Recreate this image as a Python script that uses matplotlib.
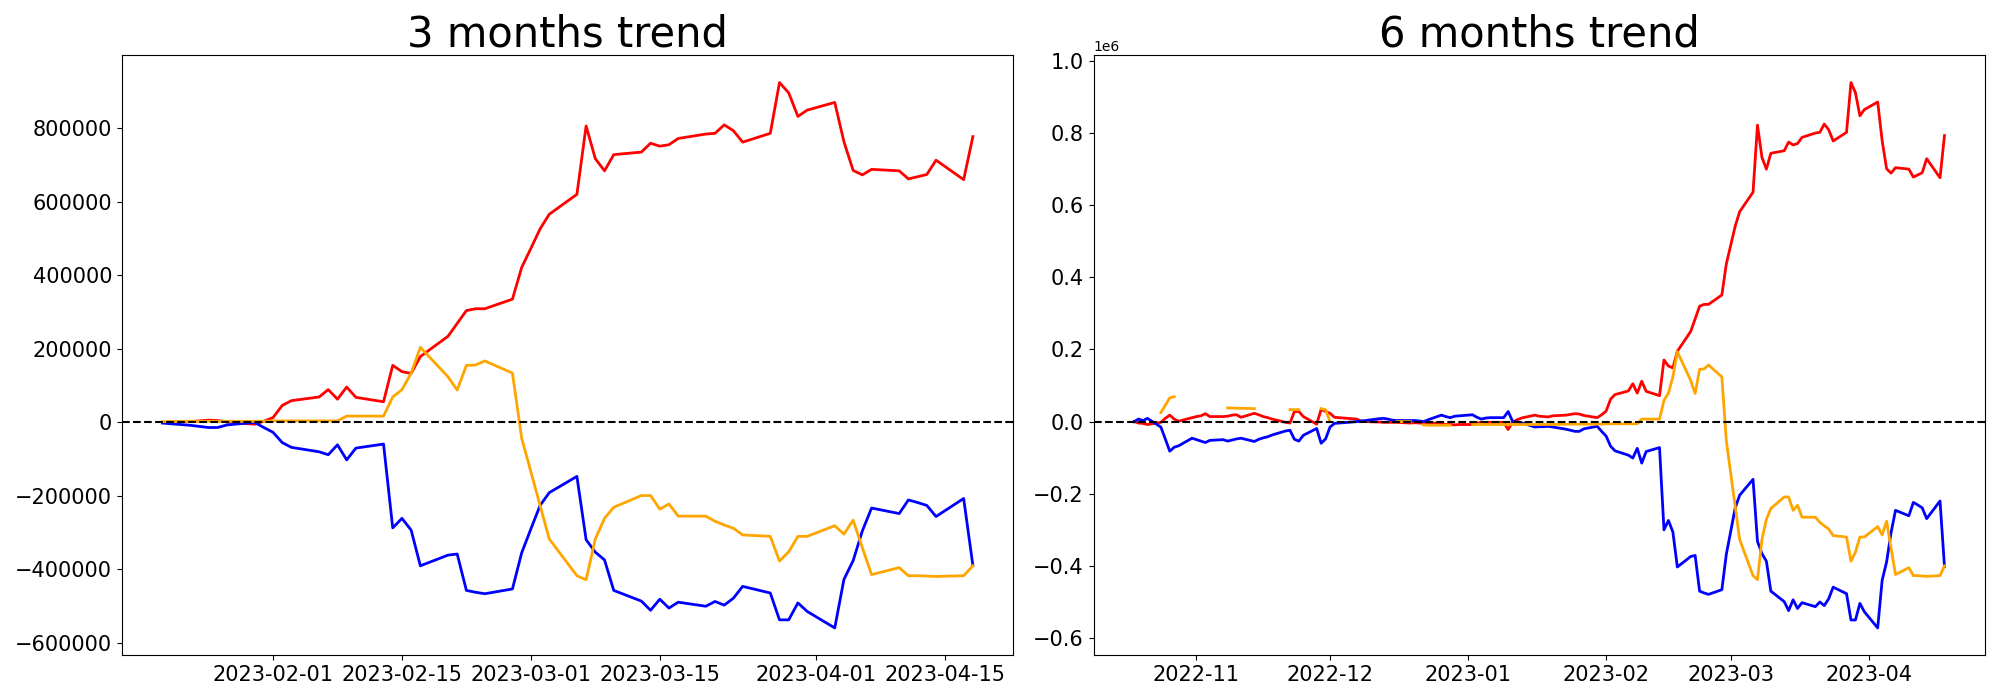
import numpy as np
import pandas as pd
import matplotlib
matplotlib.use('Agg')
import matplotlib.pyplot as plt

nan = np.nan

# trading days for the 3 month window
dates_3m = [
    '2023-01-20', '2023-01-23', '2023-01-24', '2023-01-25', '2023-01-26', '2023-01-27',
    '2023-01-30', '2023-01-31',
    '2023-02-01', '2023-02-02', '2023-02-03', '2023-02-06', '2023-02-07', '2023-02-08',
    '2023-02-09', '2023-02-10', '2023-02-13', '2023-02-14', '2023-02-15', '2023-02-16',
    '2023-02-17', '2023-02-20', '2023-02-21', '2023-02-22', '2023-02-23', '2023-02-24',
    '2023-02-27', '2023-02-28',
    '2023-03-01', '2023-03-02', '2023-03-03', '2023-03-06', '2023-03-07', '2023-03-08',
    '2023-03-09', '2023-03-10', '2023-03-13', '2023-03-14', '2023-03-15', '2023-03-16',
    '2023-03-17', '2023-03-20', '2023-03-21', '2023-03-22', '2023-03-23', '2023-03-24',
    '2023-03-27', '2023-03-28', '2023-03-29', '2023-03-30', '2023-03-31',
    '2023-04-03', '2023-04-04', '2023-04-05', '2023-04-06', '2023-04-07', '2023-04-10',
    '2023-04-11', '2023-04-12', '2023-04-13', '2023-04-14', '2023-04-17', '2023-04-18',
]

red_3m = [
    0, 2000, 4000, 6000, 5000, 1000, -5000, 3000,
    13000, 46000, 59000, 69000, 89000, 63000, 96000, 68000, 56000, 155000, 138000, 133000,
    179000, 234000, 269000, 304000, 309000, 309000, 335000, 421000,
    473000, 526000, 566000, 620000, 806000, 717000, 684000, 728000, 735000, 759000, 751000,
    755000, 772000, 784000, 786000, 809000, 793000, 762000, 786000, 924000, 896000, 832000,
    849000,
    870000, 763000, 685000, 673000, 688000, 684000, 662000, 668000, 674000, 713000, 660000,
    777000,
]

blue_3m = [
    -2000, -8000, -11000, -14000, -14000, -7000, 0, -14000,
    -27000, -55000, -68000, -80000, -88000, -61000, -102000, -70000, -59000, -287000,
    -261000, -293000, -390000, -361000, -358000, -457000, -462000, -466000, -453000, -355000,
    -290000, -226000, -191000, -147000, -319000, -353000, -374000, -457000, -486000, -511000,
    -481000, -505000, -489000, -500000, -487000, -497000, -478000, -446000, -464000, -537000,
    -537000, -491000, -514000,
    -559000, -427000, -376000, -295000, -233000, -248000, -211000, -218000, -226000, -256000,
    -207000, -389000,
]

orange_3m = [
    2000, 3000, 3000, 3000, 3000, 3000, 3000, 3000,
    4000, 4000, 4000, 4000, 4000, 4000, 17000, 17000, 17000, 69000, 89000, 134000,
    204000, 124000, 88000, 155000, 156000, 167000, 134000, -43000,
    -134000, -226000, -317000, -417000, -428000, -317000, -261000, -231000, -199000, -199000,
    -236000, -222000, -255000, -255000, -269000, -279000, -288000, -306000, -310000, -377000,
    -352000, -310000, -310000,
    -281000, -304000, -266000, -341000, -414000, -395000, -417000, -417000, -418000, -419000,
    -417000, -390000,
]

# 6 month window: days before the 3 month window
dates_early = [
    '2022-10-18', '2022-10-19', '2022-10-20', '2022-10-21', '2022-10-24', '2022-10-25',
    '2022-10-26', '2022-10-27', '2022-10-28', '2022-10-31',
    '2022-11-01', '2022-11-02', '2022-11-03', '2022-11-04', '2022-11-07', '2022-11-08',
    '2022-11-09', '2022-11-10', '2022-11-11', '2022-11-14', '2022-11-15', '2022-11-16',
    '2022-11-17', '2022-11-18', '2022-11-21', '2022-11-22', '2022-11-23', '2022-11-24',
    '2022-11-25', '2022-11-28', '2022-11-29', '2022-11-30',
    '2022-12-01', '2022-12-02', '2022-12-05', '2022-12-06', '2022-12-07', '2022-12-08',
    '2022-12-09', '2022-12-12', '2022-12-13', '2022-12-14', '2022-12-15', '2022-12-16',
    '2022-12-19', '2022-12-20', '2022-12-21', '2022-12-22', '2022-12-23', '2022-12-26',
    '2022-12-27', '2022-12-28', '2022-12-29', '2022-12-30',
    '2023-01-02', '2023-01-03', '2023-01-04', '2023-01-05', '2023-01-06', '2023-01-09',
    '2023-01-10', '2023-01-11', '2023-01-12', '2023-01-13', '2023-01-16', '2023-01-17',
    '2023-01-18', '2023-01-19',
]

red_early = [
    0, -4000, -5000, -8000, -2000, 9000, 18000, 7000, 1000, 11000,
    14000, 16000, 22000, 14000, 14000, 15000, 18000, 19000, 12000, 23000, 19000, 14000,
    11000, 7000, -2000, -4000, 28000, 28000, 14000, -7000, 34000, 28000,
    23000, 12000, 9000, 8000, 7000, 1000, 0, -1000, -2000, -2000, -2000, -2000,
    -4000, -3000, -4000, -4000, -3000, -5000, -8000, -8000, -9000, -8000,
    -8000, -4000, -2000, -2000, -2000, -2000, -22000, -2000, 5000, 10000, 18000, 15000,
    14000, 13000,
]

blue_early = [
    0, 7000, 3000, 9000, -15000, -48000, -82000, -71000, -67000, -46000,
    -50000, -54000, -58000, -52000, -50000, -54000, -51000, -48000, -46000, -55000, -49000,
    -45000, -42000, -37000, -26000, -24000, -49000, -54000, -38000, -19000, -60000, -48000,
    -15000, -5000, -2000, -1000, 0, 2000, 3000, 8000, 9000, 7000, 4000, 3000,
    3000, 3000, 2000, 0, 5000, 18000, 14000, 11000, 15000, 16000,
    19000, 12000, 7000, 10000, 11000, 11000, 28000, 1000, -1000, -3000, -15000, -14000,
    -14000, -13000,
]

orange_early = [
    nan, nan, nan, nan, 25000, 45000, 66000, 69000, nan, nan,
    nan, nan, nan, nan, nan, 38000, 38000, 37000, 37000, 36000, nan, nan,
    nan, nan, nan, 33000, 33000, 33000, nan, nan, 36000, 33000,
    0, nan, nan, nan, nan, nan, nan, nan, nan, nan, nan, 0,
    0, nan, nan, -9000, -10000, -10000, -10000, -10000, nan, nan,
    -8000, -8000, -8000, -8000, -8000, -8000, -8000, -8000, -8000, -8000, -8000, -8000,
    -8000, -8000,
]

# 6 month window: same days as the 3 month window
red_late = [
    16000, 18000, 20000, 22000, 21000, 17000, 11000, 19000,
    29000, 62000, 75000, 85000, 105000, 79000, 112000, 84000, 72000, 171000, 154000, 149000,
    195000, 250000, 285000, 320000, 325000, 325000, 351000, 437000,
    489000, 542000, 582000, 636000, 822000, 733000, 700000, 744000, 751000, 775000, 767000,
    771000, 788000, 800000, 802000, 825000, 809000, 778000, 802000, 940000, 912000, 848000,
    865000,
    886000, 779000, 701000, 689000, 704000, 700000, 678000, 684000, 690000, 729000, 676000,
    793000,
]

blue_late = [
    -15000, -21000, -24000, -27000, -27000, -20000, -13000, -27000,
    -40000, -68000, -81000, -93000, -101000, -74000, -115000, -83000, -72000, -300000,
    -274000, -306000, -403000, -374000, -371000, -470000, -475000, -479000, -466000, -368000,
    -303000, -239000, -204000, -160000, -332000, -366000, -387000, -470000, -499000, -524000,
    -494000, -518000, -502000, -513000, -500000, -510000, -491000, -459000, -477000, -550000,
    -550000, -504000, -527000,
    -572000, -440000, -389000, -308000, -246000, -261000, -224000, -231000, -239000, -269000,
    -220000, -402000,
]

orange_late = [
    -8000, -7000, -7000, -7000, -7000, -7000, -7000, -7000,
    -6000, -6000, -6000, -6000, -6000, -6000, 7000, 7000, 7000, 59000, 79000, 124000,
    194000, 114000, 78000, 145000, 146000, 157000, 124000, -53000,
    -144000, -236000, -327000, -427000, -438000, -327000, -271000, -241000, -209000, -209000,
    -246000, -232000, -265000, -265000, -279000, -289000, -298000, -316000, -320000, -387000,
    -362000, -320000, -320000,
    -291000, -314000, -276000, -351000, -424000, -405000, -427000, -427000, -428000, -429000,
    -427000, -400000,
]

x3 = pd.to_datetime(dates_3m)
x6 = pd.to_datetime(dates_early + dates_3m)

fig, axes = plt.subplots(1, 2, figsize=(20, 7), dpi=100)
fig.subplots_adjust(left=0.061, right=0.9925, bottom=0.064, top=0.921, wspace=0.09)

# 3 months
ax = axes[0]
ax.plot(x3, red_3m, color='red', lw=2)
ax.plot(x3, blue_3m, color='blue', lw=2)
ax.plot(x3, orange_3m, color='orange', lw=2)
ax.axhline(0, color='black', linestyle='--', lw=1.5)
ax.set_title('3 months trend', fontsize=30)

# 6 months
ax = axes[1]
ax.plot(x6, red_early + red_late, color='red', lw=2)
ax.plot(x6, blue_early + blue_late, color='blue', lw=2)
ax.plot(x6, orange_early + orange_late, color='orange', lw=2)
ax.axhline(0, color='black', linestyle='--', lw=1.5)
ax.set_title('6 months trend', fontsize=30)

for ax in axes:
    ax.tick_params(labelsize=15)
    ax.yaxis.get_offset_text().set_fontsize(10)

plt.savefig('out.png')
